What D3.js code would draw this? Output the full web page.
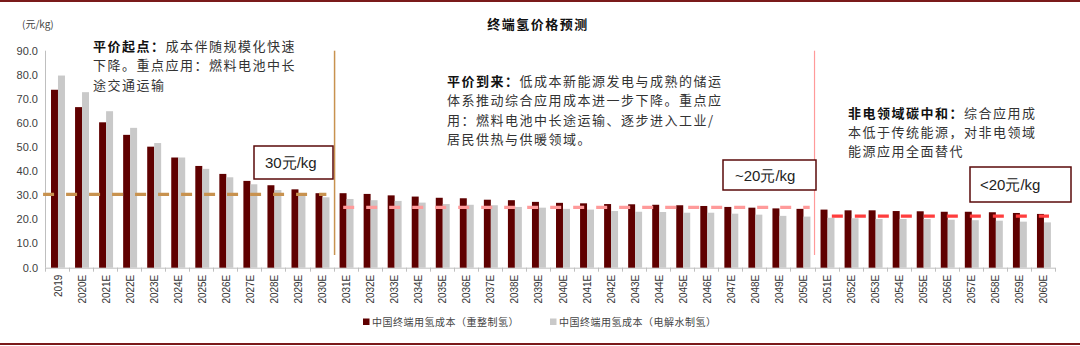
<!DOCTYPE html>
<html>
<head>
<meta charset="utf-8">
<script src="https://cdn.jsdelivr.net/npm/d3@7"></script>
<style>
  html, body { margin: 0; padding: 0; background: #fff; }
  svg { display: block; }
  .cjk { font-family: "Noto Sans CJK SC", "Noto Sans", sans-serif; }
  .num { font-family: "Liberation Sans", Arial, sans-serif; }
</style>
</head>
<body>
<svg id="chart" width="1080" height="346"></svg>
<script>
// Categories: forecast years
const years = ["2019","2020E","2021E","2022E","2023E","2024E","2025E","2026E","2027E","2028E",
  "2029E","2030E","2031E","2032E","2033E","2034E","2035E","2036E","2037E","2038E",
  "2039E","2040E","2041E","2042E","2043E","2044E","2045E","2046E","2047E","2048E",
  "2049E","2050E","2051E","2052E","2053E","2054E","2055E","2056E","2057E","2058E",
  "2059E","2060E"];

// 中国终端用氢成本（重整制氢），元/kg
const reformCost = [73.8, 66.6, 60.3, 55.1, 50.2, 45.7, 42.2, 38.9, 36.0, 34.2,
  32.5, 30.9, 30.9, 30.6, 30.0, 29.5, 29.0, 28.8, 28.2, 28.0,
  27.3, 26.9, 26.7, 26.4, 26.3, 26.1, 25.9, 25.6, 25.2, 24.9,
  24.6, 24.4, 24.1, 23.8, 23.8, 23.5, 23.4, 23.2, 23.2, 23.0,
  22.7, 22.3];

// 中国终端用氢成本（电解水制氢），元/kg
const electroCost = [79.7, 72.8, 64.9, 58.0, 51.7, 45.7, 41.0, 37.5, 34.6, 32.2,
  30.5, 29.2, 28.5, 28.0, 27.7, 27.0, 26.4, 26.1, 25.9, 25.2,
  24.9, 24.4, 24.1, 23.5, 23.2, 23.1, 22.8, 22.8, 22.4, 22.0,
  21.5, 21.2, 20.7, 20.5, 20.2, 20.2, 20.2, 19.9, 19.7, 19.5,
  19.1, 18.8];

// Y axis ticks
const yTicks = [0, 10, 20, 30, 40, 50, 60, 70, 80, 90];

// Price benchmarks per stage
const stageLabels = ["30元/kg", "~20元/kg", "<20元/kg"];
const stageLevels = [30, 24.6, 21];
const stageStart = ["2019", "2031E", "2051E"];
const stageEnd = ["2030E", "2050E", "2060E"];

const seriesNames = ["中国终端用氢成本（重整制氢）", "中国终端用氢成本（电解水制氢）"];

const colors = { reform: "#5f0000", electro: "#c9c9c9", tan: "#c8924f", pink: "#ff9a9a", red: "#ff3d3d", frame: "#7a1a1a" };

const svg = d3.select("#chart");

const x = d3.scaleBand().domain(years).range([45, 1055]).padding(0);
const y = d3.scaleLinear().domain([0, 90]).range([267.7, 50.7]);
const bw = x.bandwidth();
const barW = bw * 0.29;

// Frame lines
svg.append("rect").attr("x", 0).attr("y", 0).attr("width", 1080).attr("height", 2).attr("fill", colors.frame);
svg.append("rect").attr("x", 0).attr("y", 343).attr("width", 1080).attr("height", 2).attr("fill", colors.frame);

// Title
svg.append("text").attr("class", "cjk").attr("x", 538).attr("y", 29)
  .attr("text-anchor", "middle").attr("font-size", 13).attr("font-weight", "bold")
  .attr("letter-spacing", 1.5).attr("fill", "#111").text("终端氢价格预测");

// Unit label
svg.append("text").attr("class", "cjk").attr("x", 22).attr("y", 28)
  .attr("font-size", 10).attr("fill", "#444").text("(元/kg)");

// Y axis line and labels
svg.append("line").attr("x1", 45.5).attr("x2", 45.5).attr("y1", y(90)).attr("y2", y(0))
  .attr("stroke", "#bfbfbf").attr("stroke-width", 1);
svg.append("g").selectAll("text").data(yTicks).join("text")
  .attr("class", "num").attr("x", 38).attr("y", d => y(d)).attr("dy", "0.35em")
  .attr("text-anchor", "end").attr("font-size", 11).attr("fill", "#404040")
  .text(d => d3.format(".1f")(d));

// X axis
svg.append("line").attr("x1", 45).attr("x2", 1055).attr("y1", y(0) + 0.5).attr("y2", y(0) + 0.5)
  .attr("stroke", "#bfbfbf").attr("stroke-width", 1);
svg.append("g").selectAll("line").data(years.concat(["__end"])).join("line")
  .attr("x1", (d, i) => Math.round(45 + i * bw) + 0.5)
  .attr("x2", (d, i) => Math.round(45 + i * bw) + 0.5)
  .attr("y1", y(0)).attr("y2", y(0) + 4)
  .attr("stroke", "#bfbfbf");
svg.append("g").selectAll("text").data(years).join("text")
  .attr("class", "num").attr("font-size", 10).attr("fill", "#333")
  .attr("text-anchor", "end")
  .attr("transform", d => `translate(${x(d) + bw / 2 + 1},${y(0) + 7}) rotate(-90)`)
  .attr("dy", "0.35em")
  .text(d => d);

// Bars
const bars = svg.append("g");
bars.selectAll("rect.reform").data(years).join("rect").attr("class", "reform")
  .attr("x", d => x(d) + bw * 0.25).attr("width", barW)
  .attr("y", (d, i) => y(reformCost[i])).attr("height", (d, i) => y(0) - y(reformCost[i]))
  .attr("fill", colors.reform);
bars.selectAll("rect.electro").data(years).join("rect").attr("class", "electro")
  .attr("x", d => x(d) + bw * 0.54).attr("width", barW)
  .attr("y", (d, i) => y(electroCost[i])).attr("height", (d, i) => y(0) - y(electroCost[i]))
  .attr("fill", colors.electro);

// Stage dividers
const dividerX = [x("2031E"), x("2051E")];
svg.append("line").attr("x1", dividerX[0] + 1).attr("x2", dividerX[0] + 1)
  .attr("y1", y(90)).attr("y2", 255).attr("stroke", colors.tan).attr("stroke-width", 1.5);
svg.append("line").attr("x1", dividerX[1]).attr("x2", dividerX[1])
  .attr("y1", y(90)).attr("y2", 255).attr("stroke", colors.pink).attr("stroke-width", 1.2);

// Benchmark dashed lines
const dashColors = [colors.tan, colors.pink, colors.red];
const dashStartFrac = [-0.08, 0.4, 0.72];
const dashEndFrac = [0.7, 0.8, 0.75];
svg.append("g").selectAll("line").data(stageLevels).join("line")
  .attr("x1", (d, i) => x(stageStart[i]) + bw * dashStartFrac[i])
  .attr("x2", (d, i) => x(stageEnd[i]) + bw * dashEndFrac[i])
  .attr("y1", d => y(d) - 1).attr("y2", d => y(d) - 1)
  .attr("stroke", (d, i) => dashColors[i]).attr("stroke-width", 3.2)
  .attr("stroke-dasharray", "11,12");

// Benchmark boxes
const boxes = [
  { x: 254, y: 146, w: 79, h: 33, tx: 265 },
  { x: 723, y: 160, w: 93, h: 30, tx: 735 },
  { x: 970, y: 167, w: 101, h: 35, tx: 980 }
];
boxes.forEach((b, i) => {
  svg.append("rect").attr("x", b.x).attr("y", b.y).attr("width", b.w).attr("height", b.h)
    .attr("fill", "#fff").attr("stroke", "#5a0a0a").attr("stroke-width", 1.5);
  svg.append("text").attr("class", "num").attr("x", b.tx).attr("y", b.y + b.h / 2 + 0.5)
    .attr("dy", "0.35em").attr("font-size", 15).attr("fill", "#222")
    .attr("font-family", "'Liberation Sans', 'Noto Sans CJK SC', sans-serif")
    .text(stageLabels[i]);
});

// Stage notes
const notes = [
  { x: 93, y: 51, head: "平价起点：", lines: ["成本伴随规模化快速", "下降。重点应用：燃料电池中长", "途交通运输"] },
  { x: 447, y: 86, head: "平价到来：", lines: ["低成本新能源发电与成熟的储运", "体系推动综合应用成本进一步下降。重点应", "用：燃料电池中长途运输、逐步进入工业/", "居民供热与供暖领域。"] },
  { x: 848, y: 117.5, head: "非电领域碳中和：", lines: ["综合应用成", "本低于传统能源，对非电领域", "能源应用全面替代"] }
];
notes.forEach(n => {
  const t = svg.append("text").attr("class", "cjk").attr("font-size", 13)
    .attr("letter-spacing", 1.5).attr("fill", "#333");
  n.lines.forEach((line, li) => {
    const row = t.append("tspan").attr("x", n.x).attr("y", n.y + li * 19.3);
    if (li === 0) {
      row.append("tspan").attr("font-weight", "bold").attr("fill", "#111").text(n.head);
      row.append("tspan").text(line);
    } else {
      row.text(line);
    }
  });
});

// Legend
const legend = svg.append("g");
const legendX = [363, 550];
const legendColors = [colors.reform, colors.electro];
seriesNames.forEach((name, i) => {
  legend.append("rect").attr("x", legendX[i]).attr("y", 318.5).attr("width", 6.5).attr("height", 6.5)
    .attr("fill", legendColors[i]);
  legend.append("text").attr("class", "cjk").attr("x", legendX[i] + 9).attr("y", 322)
    .attr("dy", "0.35em").attr("font-size", 10).attr("letter-spacing", 0.5)
    .attr("fill", "#444").text(name);
});
</script>
</body>
</html>
